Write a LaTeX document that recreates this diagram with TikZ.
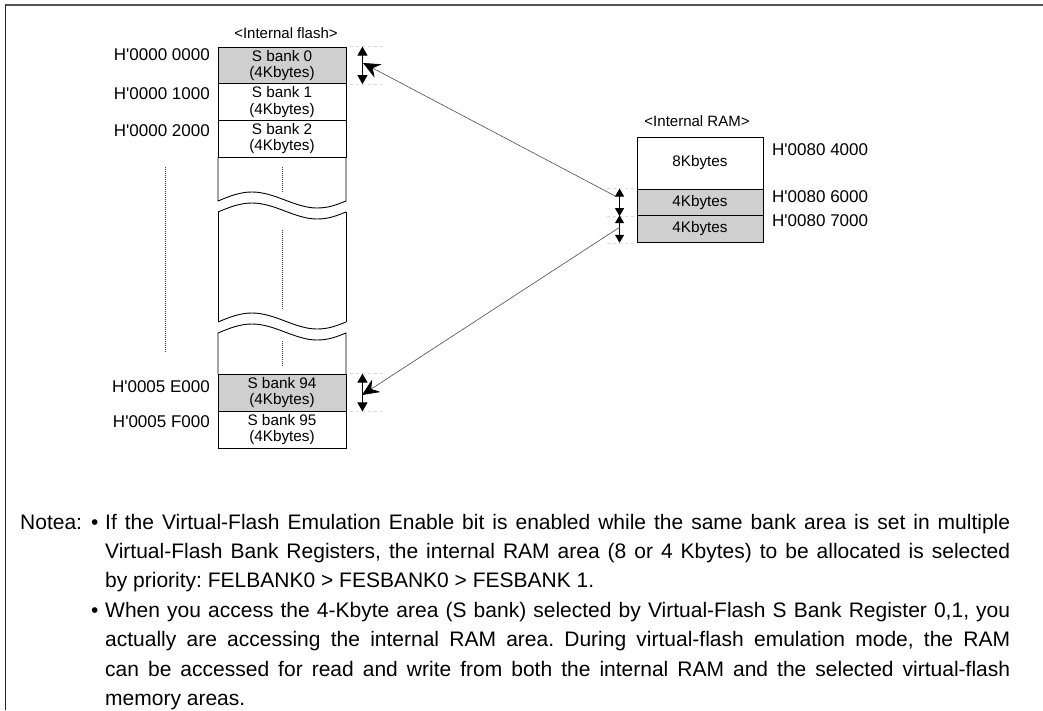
\documentclass[tikz,border=0pt]{standalone}
\usepackage{fontspec}
\setmainfont{Liberation Sans}
\usetikzlibrary{arrows.meta}
\newcommand{\ap}{\textquotesingle}
\frenchspacing
\begin{document}
\begin{tikzpicture}[x=1pt,y=-1pt,
  addr/.style={font=\fontsize{17}{20}\selectfont, inner sep=0pt},
  ttl/.style={font=\fontsize{15}{17}\selectfont, inner sep=0pt},
  flashrow/.style={draw, line width=0.9pt, minimum width=128pt, inner sep=0pt, align=center, font=\fontsize{15.3}{16.5}\selectfont},
  ramrow/.style={draw, line width=0.9pt, minimum width=126pt, inner sep=0pt, align=center, font=\fontsize{15.3}{16.5}\selectfont},
  shade/.style={fill=gray!38},
  dbl/.style={line width=1pt, {Triangle[width=10pt,length=9pt]}-{Triangle[width=10pt,length=9pt]}},
  guide/.style={gray!30, dashed, line width=0.5pt},
  link/.style={gray!60!black, line width=0.6pt, -{Stealth[length=17pt,width=15pt,inset=6pt,black]}},
  dotline/.style={gray!50!black, densely dotted, line width=1pt},
  note/.style={font=\fontsize{21}{25}\selectfont, inner sep=0pt, anchor=base west},
  waveline/.style={line width=0.9pt}]
\useasboundingbox (0,0) rectangle (1043,710);
% frame
\draw[gray!65!black, line width=1.6pt] (5,5) -- (1043,5);
\draw[black!85, line width=0.8pt] (5,5) -- (5,710);

% ---------- internal flash ----------
\node[ttl] (flt) at (286,33) {<Internal flash>};
\node[flashrow, shade, minimum height=36.67pt] (sb0) at (282,65.33) {S bank 0\\(4Kbytes)};
\node[flashrow, minimum height=36.67pt] (sb1) at (282,102) {S bank 1\\(4Kbytes)};
\node[flashrow, minimum height=36.67pt] (sb2) at (282,138.67) {S bank 2\\(4Kbytes)};
\node[flashrow, shade, minimum height=37pt] (sb94) at (282,392.5) {S bank 94\\(4Kbytes)};
\node[flashrow, minimum height=37pt] (sb95) at (282,429.5) {S bank 95\\(4Kbytes)};

% broken sections
\draw[waveline] (218,157) -- (218,201) .. controls (230,196) and (240,192) .. (252,192) .. controls (275,192) and (295,208) .. (317,208) .. controls (330,208) and (338,204) .. (346,201) -- (346,157);
\draw[waveline] (218,212) .. controls (230,207) and (240,203) .. (252,203) .. controls (275,203) and (295,219) .. (317,219) .. controls (330,219) and (338,215) .. (346,212);
\draw[waveline] (218,212) -- (218,322);
\draw[waveline] (346,212) -- (346,322);
\draw[waveline] (218,322) .. controls (230,317) and (240,313) .. (252,313) .. controls (275,313) and (295,329) .. (317,329) .. controls (330,329) and (338,325) .. (346,322);
\draw[waveline] (218,374) -- (218,333) .. controls (230,328) and (240,324) .. (252,324) .. controls (275,324) and (295,340) .. (317,340) .. controls (330,340) and (338,336) .. (346,333) -- (346,374);

% dotted continuation marks
\draw[dotline] (282,167) -- (282,193);
\draw[dotline] (282,230) -- (282,309);
\draw[dotline] (282,341) -- (282,366);
\draw[dotline] (165,167) -- (165,352);

% flash addresses
\node[addr, anchor=east] (fa0) at (210,55) {H\ap0000 0000};
\node[addr, anchor=east] (fa1) at (210,94) {H\ap0000 1000};
\node[addr, anchor=east] (fa2) at (210,131) {H\ap0000 2000};
\node[addr, anchor=east] (fa94) at (210,387) {H\ap0005 E000};
\node[addr, anchor=east] (fa95) at (210,422) {H\ap0005 F000};

% ---------- internal RAM ----------
\node[ttl] (rmt) at (697,121) {<Internal RAM>};
\node[ramrow, minimum height=52pt] (r8) at (700,163) {8Kbytes};
\node[ramrow, shade, minimum height=26.67pt] (r4a) at (700,202.33) {4Kbytes};
\node[ramrow, shade, minimum height=26.67pt] (r4b) at (700,229) {4Kbytes};

\node[addr, anchor=west] (ra0) at (772,150) {H\ap0080 4000};
\node[addr, anchor=west] (ra1) at (772,197) {H\ap0080 6000};
\node[addr, anchor=west] (ra2) at (772,221) {H\ap0080 7000};

% guide lines
\draw[guide] (sb0.north east) ++(4,0) -- ++(33,0);
\draw[guide] (sb0.south east) ++(4,0) -- ++(33,0);
\draw[guide] (sb94.north east) ++(4,0) -- ++(33,0);
\draw[guide] (sb94.south east) ++(4,0) -- ++(33,0);
\draw[guide] (r4a.north west) ++(-3,0) -- ++(-30,0);
\draw[guide] (r4a.south west) ++(-3,0) -- ++(-30,0);
\draw[guide] (r4b.south west) ++(-3,0) -- ++(-30,0);

% size arrows
\coordinate (f0t) at ([xshift=16pt]sb0.north east);
\coordinate (f0b) at ([xshift=16pt]sb0.south east);
\coordinate (f94t) at ([xshift=16pt]sb94.north east);
\coordinate (f94b) at ([xshift=16pt]sb94.south east);
\coordinate (r1t) at ([xshift=-17pt]r4a.north west);
\coordinate (r1b) at ([xshift=-17pt]r4a.south west);
\coordinate (r2t) at ([xshift=-17pt]r4b.north west);
\coordinate (r2b) at ([xshift=-17pt]r4b.south west);
\draw[dbl] (f0t) -- (f0b);
\draw[dbl] (f94t) -- (f94b);
\draw[line width=1pt, {Triangle[width=9pt,length=8pt]}-{Triangle[width=9pt,length=8pt]}] (r1t) -- (r1b);
\draw[line width=1pt, {Triangle[width=9pt,length=8pt]}-{Triangle[width=9pt,length=8pt]}] (r2t) -- (r2b);

% links
\coordinate (p1) at (617,197);
\coordinate (q1) at (363,63);
\coordinate (p2) at (620,227);
\coordinate (q2) at (362,395);
\draw[link] (p1) -- (q1);
\draw[link] (p2) -- (q2);

% ---------- notes ----------
\node[note] (nt) at (20,529) {Notea:};
\node[note] (bu1) at (91,529) {•};
\node[note] (l1) at (105,529) {\makebox[905pt][s]{If the Virtual-Flash Emulation Enable bit is enabled while the same bank area is set in multiple}};
\node[note] (l2) at (105,558.4) {\makebox[905pt][s]{Virtual-Flash Bank Registers, the internal RAM area (8 or 4 Kbytes) to be allocated is selected}};
\node[note] (l3) at (105,587.8) {by priority: FELBANK0 > FESBANK0 > FESBANK 1.};
\node[note] (bu2) at (91,617.2) {•};
\node[note] (l4) at (105,617.2) {\makebox[905pt][s]{When you access the 4-Kbyte area (S bank) selected by Virtual-Flash S Bank Register 0,1, you}};
\node[note] (l5) at (105,646.6) {\makebox[905pt][s]{actually are accessing the internal RAM area. During virtual-flash emulation mode, the RAM}};
\node[note] (l6) at (105,676) {\makebox[905pt][s]{can be accessed for read and write from both the internal RAM and the selected virtual-flash}};
\node[note] (l7) at (105,705.4) {memory areas.};
\end{tikzpicture}
\end{document}
